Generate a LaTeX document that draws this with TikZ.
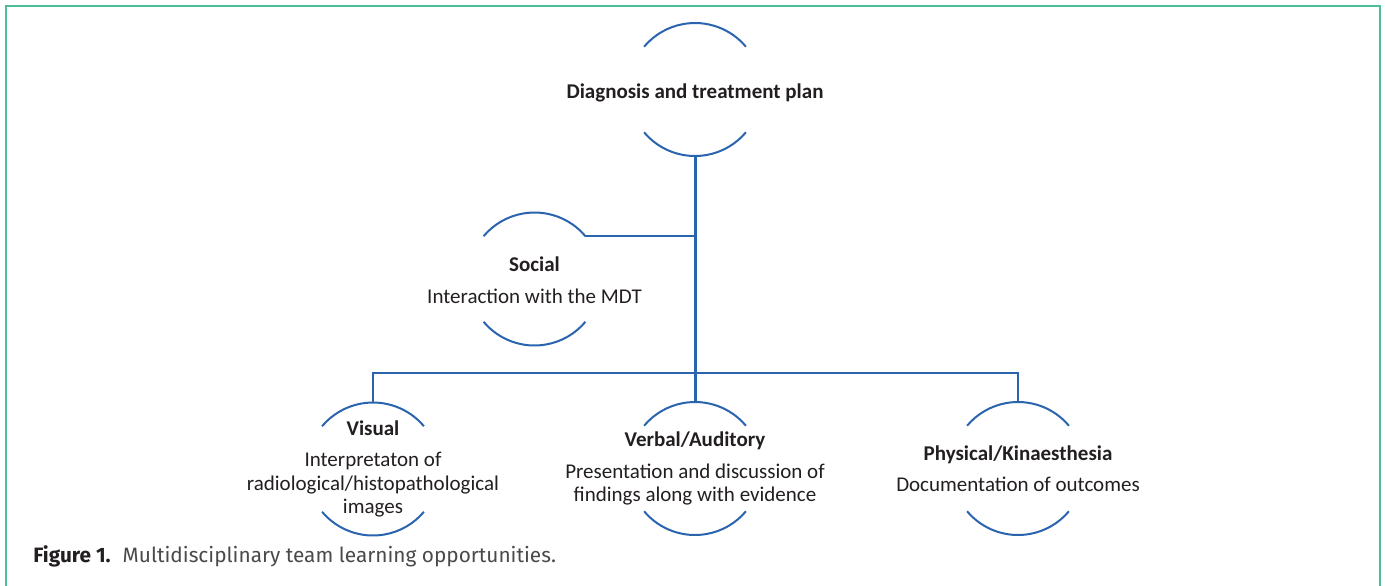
\documentclass[tikz,border=0pt]{standalone}
\usepackage{fontspec}
\setmainfont{Carlito}
\newfontfamily\capfont{Fira Sans}
\definecolor{mdtblue}{HTML}{2A64AE}
\definecolor{framegreen}{HTML}{4DBF98}
\definecolor{txt}{HTML}{231F20}
\definecolor{captxt}{HTML}{4A4A4A}
\begin{document}
\begin{tikzpicture}[x=0.5pt,y=0.5pt,
  ring/.style={circle,minimum size=66.5pt,inner sep=0pt,outer sep=0pt},
  lbl/.style={align=center,text=txt,font=\fontsize{10.5}{11.8}\selectfont,inner sep=0pt},
  arcline/.style={draw=mdtblue,line width=1pt},
  conn/.style={draw=mdtblue,line width=1.2pt},
  trunk/.style={draw=mdtblue,line width=1.5pt}]
\useasboundingbox (0,0) rectangle (1385,-585);
\fill[white] (0,0) rectangle (1385,-585);
\draw[framegreen,line width=1.1pt] (6,-590) -- (6,-6) -- (1380,-6) -- (1380,-590);

\node[ring] (top) at (695,-89.5) {};
\node[ring] (soc) at (534.5,-279) {};
\node[ring] (vis) at (373,-469) {};
\node[ring] (ver) at (695,-468.5) {};
\node[ring] (phy) at (1018,-468.5) {};

\node[lbl] (toplbl) at ([yshift=-1.5pt]top.center) {\textbf{Diagnosis and treatment plan}};
\node[lbl] (soclbl) at ([yshift=-0.5pt]soc.center) {\textbf{Social}\\[4pt]Interaction with the MDT};
\node[lbl] (vislbl) at (vis) {\textbf{Visual}\\[4pt]Interpretaton of\\radiological/histopathological\\images};
\node[lbl] (verlbl) at (ver) {\textbf{Verbal/Auditory}\\[4pt]Presentation and discussion of\\findings along with evidence};
\node[lbl] (phylbl) at (phy) {\textbf{Physical/Kinaesthesia}\\[4pt]Documentation of outcomes};

\foreach \n in {top,soc,vis,ver,phy} {
  \draw[arcline] (\n.40) arc[start angle=40,end angle=140,radius=33.25pt];
  \draw[arcline] (\n.220) arc[start angle=220,end angle=320,radius=33.25pt];
}

\coordinate (bus) at (695,-373);
\draw[trunk] (top.south) -- (ver.north);
\draw[conn] (soc.40) -- (soc.40 -| top.south);
\draw[conn] (vis.north) -- (vis.north |- bus) -- (phy.north |- bus) -- (phy.north);

\node[anchor=west,inner sep=0pt,font=\capfont\fontsize{10.4}{12}\selectfont] (cap) at (33,-556)
  {\textcolor{txt}{\textbf{Figure 1.}}\hspace{6pt}\textcolor{captxt}{Multidisciplinary team learning opportunities.}};
\end{tikzpicture}
\end{document}
